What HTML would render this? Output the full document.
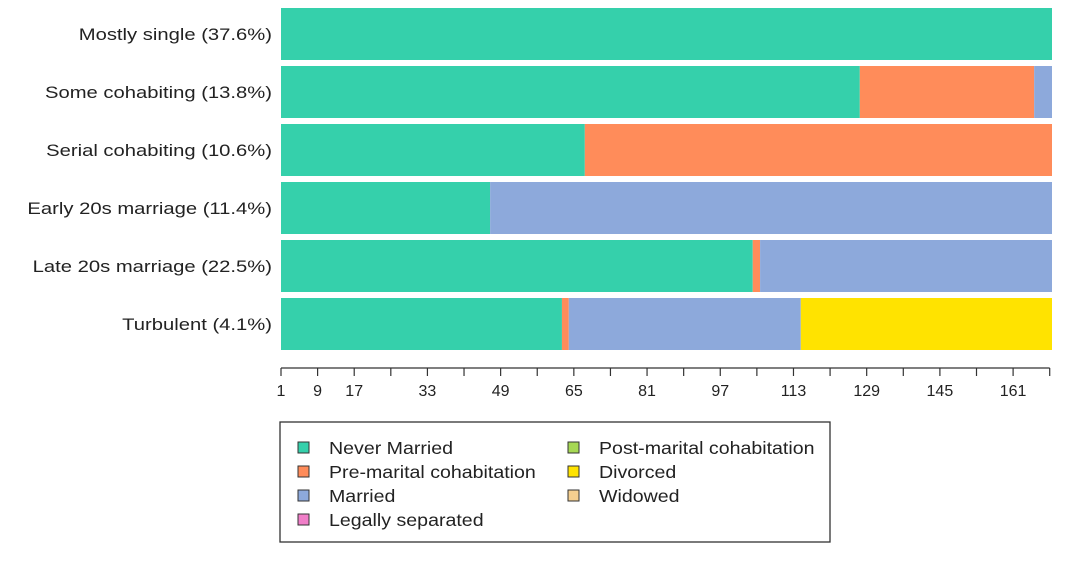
<!DOCTYPE html>
<html><head><meta charset="utf-8"><style>
body{margin:0;background:#fff;width:1080px;height:564px;overflow:hidden;font-family:"Liberation Sans",sans-serif}
svg text{font-family:"Liberation Sans",sans-serif}
</style></head><body>
<svg id="chart" width="1080" height="564" xmlns="http://www.w3.org/2000/svg"></svg>
<script>
const categories=["Mostly single (37.6%)","Some cohabiting (13.8%)","Serial cohabiting (10.6%)","Early 20s marriage (11.4%)","Late 20s marriage (22.5%)","Turbulent (4.1%)"];
const states=["Never Married","Pre-marital cohabitation","Married","Legally separated","Post-marital cohabitation","Divorced","Widowed"];
const colors=["#35d0ab","#ff8c5a","#8da9db","#f07ec8","#a6d854","#ffe300","#f5cf8f"];
// segments: [stateIndex, endMonth]
const seg0=[[0,169.5]];
const seg1=[[0,127.5],[1,165.6],[2,169.5]];
const seg2=[[0,67.4],[1,169.5]];
const seg3=[[0,46.7],[2,169.5]];
const seg4=[[0,104.1],[1,105.7],[2,169.5]];
const seg5=[[0,62.4],[1,63.9],[2,114.6],[5,169.5]];
const segments=[seg0,seg1,seg2,seg3,seg4,seg5];
const ticks=[1,9,17,25,33,41,49,57,65,73,81,89,97,105,113,121,129,137,145,153,161,169];
const tickLabels=[1,9,17,33,49,65,81,97,113,129,145,161];
const NS="http://www.w3.org/2000/svg";
const svg=document.getElementById('chart');
const x=v=>281+(v-1)*(771/168.5);
const yTop=i=>8+i*58;
function el(t,a){const e=document.createElementNS(NS,t);for(const k in a)e.setAttribute(k,a[k]);svg.appendChild(e);return e;}
segments.forEach((s,i)=>{
  let start=1;
  s.forEach(([st,end])=>{
    const r=el('rect',{x:x(start),y:yTop(i),width:x(end)-x(start),height:52,fill:colors[st]});
    
    
    start=end;
  });
  const t=el('text',{x:0,y:0,'text-anchor':'end','font-size':17,fill:'#222',transform:'translate(272,'+(yTop(i)+32)+') scale(1.19,1)'});
  t.textContent=categories[i];
  
  
});
const ax=el('line',{x1:x(1),x2:x(169),y1:368,y2:368,stroke:'#333','stroke-width':1.3});


ticks.forEach(v=>{const l=el('line',{x1:x(v),x2:x(v),y1:368,y2:376,stroke:'#333','stroke-width':1.2});

});
tickLabels.forEach(v=>{const t=el('text',{x:x(v),y:396,'text-anchor':'middle','font-size':16,fill:'#222'});t.textContent=v;

});
const lg=el('rect',{x:280,y:422,width:550,height:120,fill:'#fff',stroke:'#333','stroke-width':1.3});


states.forEach((s,i)=>{
  const col=i<4?0:1,row=i<4?i:i-4;
  const bx=col?568:298,by=442+row*24;
  const r=el('rect',{x:bx,y:by,width:11,height:11,fill:colors[i],stroke:'#333','stroke-width':1});
  
  
  const t=el('text',{x:0,y:0,'font-size':17.5,fill:'#222',transform:'translate('+(bx+31)+','+(by+12)+') scale(1.12,1)'});t.textContent=s;
  
  
});
</script>
</body></html>
